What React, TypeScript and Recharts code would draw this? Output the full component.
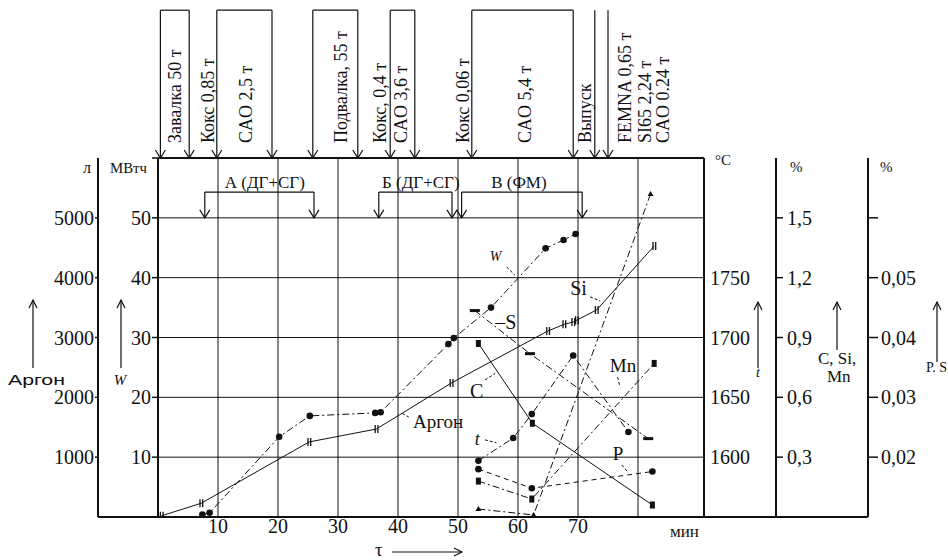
import React from 'react';
import { ComposedChart, Line, XAxis, YAxis, CartesianGrid, ReferenceLine, ReferenceDot } from 'recharts';

// time, min
const minuteTicks = [10, 20, 30, 40, 50, 60, 70, 80];
// left axes
const powerTicks = [0, 10, 20, 30, 40, 50, 60];
const argonTicks = [1000, 2000, 3000, 4000, 5000];
// right axes
const tempTicks = [1600, 1650, 1700, 1750];
const pctTicks = [0.3, 0.6, 0.9, 1.2, 1.5];
const pctLabels = ['0,3', '0,6', '0,9', '1,2', '1,5'];
const psTicks = [0.02, 0.03, 0.04, 0.05, 0.06];
const psLabels = ['0,02', '0,03', '0,04', '0,05', ''];

// series
const argon = [
  { t: 0.6, v: 20 }, { t: 7.2, v: 230 }, { t: 25.2, v: 1255 }, { t: 36.4, v: 1470 },
  { t: 48.9, v: 2240 }, { t: 65.0, v: 3110 }, { t: 67.7, v: 3220 }, { t: 69.2, v: 3260 },
  { t: 69.8, v: 3290 }, { t: 73.1, v: 3460 }, { t: 82.7, v: 4530 },
];
const energy = [
  { t: 7.4, v: 0.4 }, { t: 8.6, v: 0.7 }, { t: 20.2, v: 13.4 }, { t: 25.3, v: 16.9 },
  { t: 36.2, v: 17.4 }, { t: 37.1, v: 17.5 }, { t: 48.4, v: 28.9 }, { t: 49.3, v: 29.9 },
  { t: 55.5, v: 35.0 }, { t: 64.6, v: 44.9 }, { t: 67.6, v: 46.3 }, { t: 69.6, v: 47.3 },
];
const temperature = [
  { t: 53.4, v: 1597 }, { t: 59.2, v: 1616 }, { t: 62.3, v: 1636 }, { t: 69.2, v: 1685 }, { t: 78.4, v: 1621 },
];
const carbon = [{ t: 53.4, v: 0.87 }, { t: 62.4, v: 0.47 }, { t: 82.4, v: 0.06 }];
const silicon = [{ t: 53.4, v: 0.04 }, { t: 62.6, v: 0.01 }, { t: 82.1, v: 1.62 }];
const manganese = [{ t: 53.4, v: 0.18 }, { t: 62.3, v: 0.09 }, { t: 82.7, v: 0.77 }];
const phosphorus = [{ t: 53.4, v: 0.018 }, { t: 62.3, v: 0.0148 }, { t: 82.4, v: 0.0176 }];
const sulfur = [{ t: 52.8, v: 0.0445 }, { t: 62.0, v: 0.0373 }, { t: 81.7, v: 0.0231 }];

// charging events above the plot
const eventTimes = [0.4, 5.2, 9.8, 19, 25.8, 33.3, 38.7, 42.8, 52.3, 69.2, 72.8, 75.0];
const eventBrackets = [[0.4, 5.2], [9.8, 19], [25.8, 33.3], [38.7, 42.8], [52.3, 69.2]];
const eventLabels = [
  'Завалка 50 т', 'Кокс 0,85 т', 'CAO 2,5 т', 'Подвалка, 55 т', 'Кокс, 0,4 т', 'CAO 3,6 т',
  'Кокс 0,06 т', 'CAO 5,4 т', 'Выпуск', 'FEMNA 0,65 т', 'SI65 2,24 т', 'CAO 0.24 т',
];
const eventLabelAt = [3.8, 9.3, 15.7, 31.5, 38, 41.5, 51.8, 62.2, 72.2, 78.8, 82.2, 85.2];

// melting periods
const phaseNames = ['А (ДГ+СГ)', 'Б (ДГ+СГ)', 'В (ФМ)'];
const phaseFrom = [7.8, 36.8, 50.6];
const phaseTo = [26, 49, 70.7];

// recharts stacks same-side axes by id, so ids are ordered inside -> out
const W = 'L1';
const AR = 'L2';
const TC = 'R1';
const PC = 'R2';
const PS = 'R3';

const AX = '#111';
const serif = '"Liberation Serif", "Times New Roman", serif';
const sans = '"Liberation Sans", Arial, sans-serif';
const dashDot = '7 3 2 3';

const EVENT_TOP = 84.7;
const EVENT_TEXT = 62.5;
const PHASE_BAR = 54.3;

const upArrow = (x: number, yBottom: number, yTop: number) => (
  <g stroke={AX} strokeWidth={1.2} fill="none">
    <line x1={x} y1={yBottom} x2={x} y2={yTop} />
    <path d={`M${x - 4},${yTop + 8} L${x},${yTop} L${x + 4},${yTop + 8}`} />
  </g>
);

const downArrowShape = (p: any) => {
  const yb = Math.max(p.y1, p.y2);
  const yt = Math.min(p.y1, p.y2);
  return (
    <g stroke={AX} strokeWidth={1.2} fill="none">
      <line x1={p.x1} y1={yt} x2={p.x2} y2={yb} />
      <path d={`M${p.x2 - 5},${yb - 8} L${p.x2},${yb} L${p.x2 + 5},${yb - 8}`} />
    </g>
  );
};

const marker = (kind: string) => (p: any) => {
  const { cx, cy, index } = p;
  const key = `${kind}-${index}`;
  if (cx == null || cy == null) return <g key={key} />;
  if (kind === 'circle') return <circle key={key} cx={cx} cy={cy} r={3.3} fill={AX} />;
  if (kind === 'square') return <rect key={key} x={cx - 2.5} y={cy - 3.5} width={5} height={7} fill={AX} />;
  if (kind === 'tri') return <path key={key} d={`M${cx - 3},${cy + 2} L${cx + 3},${cy + 2} L${cx},${cy - 3} Z`} fill={AX} />;
  if (kind === 'dash') return <rect key={key} x={cx - 5} y={cy - 1.5} width={10} height={3} fill={AX} />;
  return <path key={key} d={`M${cx - 1.2},${cy - 4} v8 M${cx + 1.5},${cy - 4} v8`} stroke={AX} strokeWidth={1.3} />;
};

const yTick = (anchor: 'start' | 'end', fmt: (v: number) => string) => (p: any) => (
  <text x={p.x} y={p.y} dy="0.35em" textAnchor={anchor} fontFamily={serif} fontSize={20} fill={AX}>
    {fmt(p.payload.value)}
  </text>
);

const xTick = (p: any) => (
  <text x={p.x} y={p.y + 16} textAnchor="middle" fontFamily={serif} fontSize={20} fill={AX}>
    {p.payload.value < 80 ? String(p.payload.value) : ''}
  </text>
);

const txt = (x: number, y: number, s: string, size: number, extra: any = {}) => (
  <text x={x} y={y} fontFamily={serif} fontSize={size} fill={AX} {...extra}>{s}</text>
);

const argonAxisLabel = ({ viewBox }: any) => {
  const { x, y } = viewBox;
  return (
    <g>
      {txt(x + 79, y + 15, 'л', 16, { textAnchor: 'middle' })}
      {upArrow(x + 25, y + 210, y + 142)}
      <text x={x} y={y + 227} fontFamily={sans} fontSize={14} fill={AX} textLength={57} lengthAdjust="spacingAndGlyphs">Аргон</text>
    </g>
  );
};
const powerAxisLabel = ({ viewBox }: any) => {
  const { x, y } = viewBox;
  return (
    <g>
      <text x={x + 12} y={y + 15} fontFamily={serif} fontSize={15} fill={AX} textLength={37} lengthAdjust="spacingAndGlyphs">МВтч</text>
      {upArrow(x + 23, y + 210, y + 142)}
      {txt(x + 22, y + 227, 'W', 15, { textAnchor: 'middle', fontStyle: 'italic' })}
    </g>
  );
};
const tempAxisLabel = ({ viewBox }: any) => {
  const { x, y } = viewBox;
  return (
    <g>
      {txt(x + 11, y + 7, '°C', 15)}
      {upArrow(x + 54, y + 210, y + 144)}
      {txt(x + 54, y + 219, 't', 14, { textAnchor: 'middle', fontStyle: 'italic' })}
    </g>
  );
};
const pctAxisLabel = ({ viewBox }: any) => {
  const { x, y } = viewBox;
  return (
    <g>
      {txt(x + 14, y + 14, '%', 15)}
      {upArrow(x + 61, y + 192, y + 144)}
      {txt(x + 42, y + 206, 'C, Si,', 17)}
      {txt(x + 51, y + 224, 'Mn', 17)}
    </g>
  );
};
const psAxisLabel = ({ viewBox }: any) => {
  const { x, y } = viewBox;
  return (
    <g>
      {txt(x + 12, y + 14, '%', 15)}
      {upArrow(x + 69, y + 204, y + 144)}
      {txt(x + 58, y + 214, 'P. S', 14)}
    </g>
  );
};
const minuteAxisLabel = ({ viewBox }: any) => {
  const { x, y } = viewBox;
  return (
    <g>
      {txt(x + 512, y + 20, 'мин', 17)}
      {txt(x + 217, y + 39, 'τ', 19)}
      <g stroke={AX} strokeWidth={1.2} fill="none">
        <line x1={x + 234} y1={y + 35} x2={x + 304} y2={y + 35} />
        <path d={`M${x + 296},${y + 31} L${x + 304},${y + 35} L${x + 296},${y + 39}`} />
      </g>
    </g>
  );
};

const note = (key: string, t: number, w: number, s: string, size: number, extra: any = {}) => (
  <ReferenceDot
    key={key}
    x={t}
    y={w}
    yAxisId={W}
    r={0}
    ifOverflow="visible"
    shape={(p: any) => txt(p.cx, p.cy, s, size, extra)}
  />
);

const lead = (key: string, t1: number, w1: number, t2: number, w2: number) => (
  <ReferenceLine
    key={key}
    yAxisId={W}
    segment={[{ x: t1, y: w1 }, { x: t2, y: w2 }]}
    ifOverflow="visible"
    stroke={AX}
    strokeWidth={1}
    strokeDasharray="3 2"
  />
);

export default function App() {
  return (
    <div style={{ position: 'absolute', left: 0, top: 0, width: 948, height: 560, background: '#fff' }}>
      <ComposedChart width={948} height={560} margin={{ top: 158, right: 20, bottom: 13, left: 8 }}>
        <CartesianGrid yAxisId={W} stroke={AX} strokeWidth={1} fill="none" />
        <XAxis
          type="number"
          dataKey="t"
          domain={[0, 91]}
          ticks={minuteTicks}
          interval={0}
          allowDataOverflow
          height={30}
          tickLine={false}
          tickSize={0}
          tickMargin={0}
          axisLine={{ stroke: AX, strokeWidth: 2 }}
          tick={xTick}
          label={minuteAxisLabel}
        />
        <YAxis
          yAxisId={W}
          orientation="left"
          width={60}
          domain={[0, 60]}
          ticks={powerTicks}
          interval={0}
          allowDataOverflow
          tickSize={6}
          tickMargin={1}
          tickLine={{ stroke: AX, strokeWidth: 1.5 }}
          axisLine={{ stroke: AX, strokeWidth: 2 }}
          tick={yTick('end', (v) => (v > 0 && v < 60 ? String(v) : ''))}
          label={powerAxisLabel}
        />
        <YAxis
          yAxisId={AR}
          orientation="left"
          width={90}
          domain={[0, 6000]}
          ticks={argonTicks}
          interval={0}
          allowDataOverflow
          tickSize={3}
          tickMargin={1}
          tickLine={{ stroke: AX, strokeWidth: 1.5 }}
          axisLine={{ stroke: AX, strokeWidth: 2 }}
          tick={yTick('end', (v) => String(v))}
          label={argonAxisLabel}
        />
        <YAxis
          yAxisId={TC}
          orientation="right"
          width={72}
          domain={[1550, 1850]}
          ticks={tempTicks}
          interval={0}
          allowDataOverflow
          tickLine={false}
          tickSize={0}
          tickMargin={6}
          axisLine={{ stroke: AX, strokeWidth: 2 }}
          tick={yTick('start', (v) => String(v))}
          label={tempAxisLabel}
        />
        <YAxis
          yAxisId={PC}
          orientation="right"
          width={92}
          domain={[0, 1.8]}
          ticks={pctTicks}
          interval={0}
          allowDataOverflow
          tickSize={7}
          tickMargin={4}
          tickLine={{ stroke: AX, strokeWidth: 1.5 }}
          axisLine={{ stroke: AX, strokeWidth: 2 }}
          tick={yTick('start', (v) => pctLabels[pctTicks.indexOf(v)] ?? '')}
          label={pctAxisLabel}
        />
        <YAxis
          yAxisId={PS}
          orientation="right"
          width={60}
          domain={[0.01, 0.07]}
          ticks={psTicks}
          interval={0}
          allowDataOverflow
          tickSize={10}
          tickMargin={3}
          tickLine={{ stroke: AX, strokeWidth: 1.5 }}
          axisLine={{ stroke: AX, strokeWidth: 2 }}
          tick={yTick('start', (v) => psLabels[psTicks.indexOf(v)] ?? '')}
          label={psAxisLabel}
        />

        {/* frame */}
        <ReferenceLine yAxisId={W} y={60} stroke={AX} strokeWidth={2} ifOverflow="visible" />
        <ReferenceLine
          yAxisId={W}
          segment={[{ x: -10, y: 0 }, { x: 118.3, y: 0 }]}
          ifOverflow="visible"
          stroke={AX}
          strokeWidth={2}
        />

        {/* charging events */}
        {eventTimes.map((t, i) => (
          <ReferenceLine
            key={`ev-${i}`}
            yAxisId={W}
            segment={[{ x: t, y: EVENT_TOP }, { x: t, y: 60 }]}
            ifOverflow="visible"
            shape={downArrowShape}
          />
        ))}
        {eventBrackets.map(([a, b], i) => (
          <ReferenceLine
            key={`br-${i}`}
            yAxisId={W}
            segment={[{ x: a, y: EVENT_TOP }, { x: b, y: EVENT_TOP }]}
            ifOverflow="visible"
            stroke={AX}
            strokeWidth={1.2}
          />
        ))}
        {eventLabels.map((s, i) => (
          <ReferenceDot
            key={`el-${i}`}
            x={eventLabelAt[i]}
            y={EVENT_TEXT}
            yAxisId={W}
            r={0}
            ifOverflow="visible"
            shape={(p: any) =>
              txt(p.cx, p.cy, s, 18, { transform: `rotate(-90 ${p.cx} ${p.cy})` })
            }
          />
        ))}

        {/* melting periods */}
        {phaseNames.map((s, i) => (
          <ReferenceLine
            key={`pb-${i}`}
            yAxisId={W}
            segment={[{ x: phaseFrom[i], y: PHASE_BAR }, { x: phaseTo[i], y: PHASE_BAR }]}
            ifOverflow="visible"
            stroke={AX}
            strokeWidth={1.2}
          />
        ))}
        {phaseNames.flatMap((s, i) =>
          [phaseFrom[i], phaseTo[i]].map((t, j) => (
            <ReferenceLine
              key={`pa-${i}-${j}`}
              yAxisId={W}
              segment={[{ x: t, y: PHASE_BAR }, { x: t, y: 50 }]}
              ifOverflow="visible"
              shape={downArrowShape}
            />
          ))
        )}
        {phaseNames.map((s, i) =>
          note(`pn-${i}`, (phaseFrom[i] + phaseTo[i]) / 2 + (i === 2 ? -0.5 : 0.9), 55.0, s, 17, { textAnchor: 'middle' })
        )}

        {/* curve names */}
        {note('n-w', 55.3, 42.8, 'W', 14, { fontStyle: 'italic' })}
        {lead('l-w', 58.1, 41.8, 59.5, 40.4)}
        {note('n-si', 68.7, 37.1, 'Si', 20)}
        {lead('l-si', 72, 36.8, 73.7, 36.1)}
        {note('n-s', 56.2, 31.4, '–S', 20)}
        {note('n-c', 52.0, 19.9, 'C', 20)}
        {lead('l-c', 54.5, 22.9, 56.2, 24.0)}
        {note('n-ar', 42.5, 14.9, 'Аргон', 19)}
        {lead('l-ar', 40.7, 17.3, 41.8, 16.7)}
        {note('n-t', 52.8, 12.0, 't', 18, { fontStyle: 'italic' })}
        {lead('l-t', 54.5, 12.9, 56.4, 12.4)}
        {note('n-mn', 75.3, 24.2, 'Mn', 19)}
        {lead('l-mn', 76.6, 23.4, 76.9, 22.1)}
        {note('n-p', 75.8, 9.5, 'P', 19)}
        {lead('l-p', 77.3, 8.7, 78.4, 7.4)}

        {/* series */}
        <Line yAxisId={AR} data={argon} dataKey="v" type="linear" stroke={AX} strokeWidth={1} dot={marker('tick')} isAnimationActive={false} />
        <Line yAxisId={W} data={energy} dataKey="v" type="linear" stroke={AX} strokeWidth={1} strokeDasharray={dashDot} dot={marker('circle')} isAnimationActive={false} />
        <Line yAxisId={TC} data={temperature} dataKey="v" type="linear" stroke={AX} strokeWidth={1} strokeDasharray={dashDot} dot={marker('circle')} isAnimationActive={false} />
        <Line yAxisId={PC} data={carbon} dataKey="v" type="linear" stroke={AX} strokeWidth={1} dot={marker('square')} isAnimationActive={false} />
        <Line yAxisId={PC} data={silicon} dataKey="v" type="linear" stroke={AX} strokeWidth={1} strokeDasharray={dashDot} dot={marker('tri')} isAnimationActive={false} />
        <Line yAxisId={PC} data={manganese} dataKey="v" type="linear" stroke={AX} strokeWidth={1} strokeDasharray={dashDot} dot={marker('square')} isAnimationActive={false} />
        <Line yAxisId={PS} data={phosphorus} dataKey="v" type="linear" stroke={AX} strokeWidth={1} strokeDasharray="5 4" dot={marker('circle')} isAnimationActive={false} />
        <Line yAxisId={PS} data={sulfur} dataKey="v" type="linear" stroke={AX} strokeWidth={1} strokeDasharray={dashDot} dot={marker('dash')} isAnimationActive={false} />
      </ComposedChart>
    </div>
  );
}
